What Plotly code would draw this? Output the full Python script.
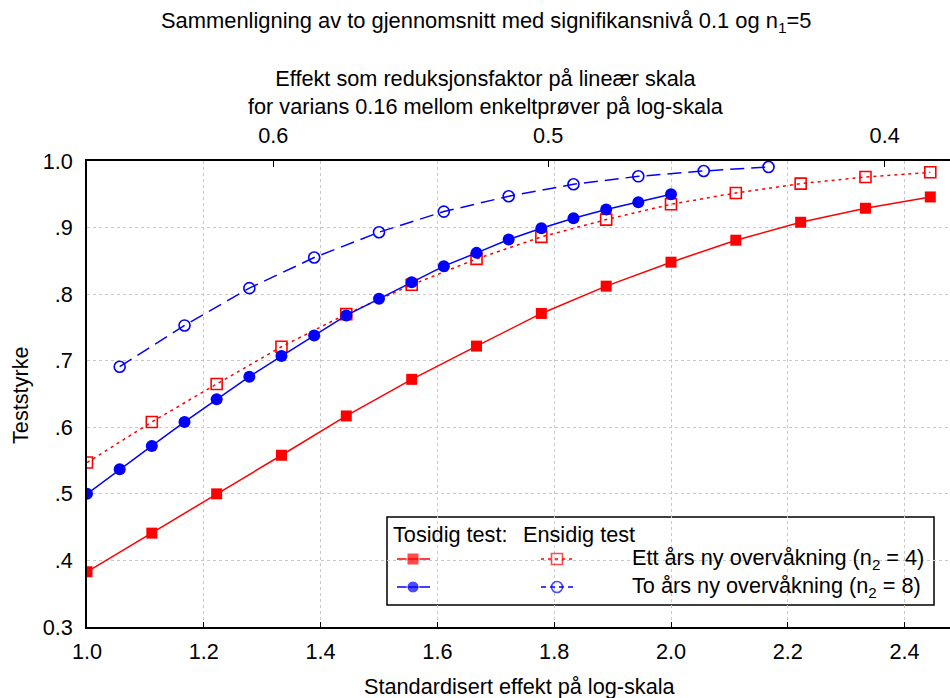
import math
import plotly.graph_objects as go

# ---------------- data ----------------
x_n4 = [1.0, 1.111, 1.222, 1.333, 1.444, 1.556, 1.667, 1.778, 1.889, 2.0, 2.111, 2.222, 2.333, 2.444]
tosidig_n4 = [0.383, 0.441, 0.500, 0.558, 0.617, 0.672, 0.722, 0.771, 0.812, 0.848, 0.881, 0.908, 0.929, 0.946]
ensidig_n4 = [0.547, 0.608, 0.665, 0.721, 0.770, 0.814, 0.853, 0.886, 0.912, 0.935, 0.952, 0.966, 0.976, 0.983]

x_tos_n8 = [1.0, 1.056, 1.111, 1.167, 1.222, 1.278, 1.333, 1.389, 1.444, 1.5, 1.556, 1.611,
            1.667, 1.722, 1.778, 1.833, 1.889, 1.944, 2.0]
tosidig_n8 = [0.500, 0.537, 0.572, 0.608, 0.642, 0.676, 0.707, 0.738, 0.768, 0.793, 0.818, 0.842,
              0.862, 0.882, 0.899, 0.914, 0.927, 0.938, 0.950]

x_ens_n8 = [1.056, 1.167, 1.278, 1.389, 1.5, 1.611, 1.722, 1.833, 1.944, 2.056, 2.167]
ensidig_n8 = [0.691, 0.753, 0.809, 0.855, 0.893, 0.924, 0.947, 0.965, 0.977, 0.985, 0.991]

x_ticks = [1.0, 1.2, 1.4, 1.6, 1.8, 2.0, 2.2, 2.4]
x_ticklabels = ["1.0", "1.2", "1.4", "1.6", "1.8", "2.0", "2.2", "2.4"]
y_ticks = [0.3, 0.4, 0.5, 0.6, 0.7, 0.8, 0.9, 1.0]
y_ticklabels = ["0.3", ".4", ".5", ".6", ".7", ".8", ".9", "1.0"]
top_factors = [0.6, 0.5, 0.4]
top_ticklabels = ["0.6", "0.5", "0.4"]
top_scale_sd = math.sqrt(0.15)  # standardised effect = ln(1/factor)/sd

title = "Sammenligning av to gjennomsnitt med signifikansnivå 0.1 og n<sub>1</sub>=5"
top_title = "Effekt som reduksjonsfaktor på lineær skala<br>for varians 0.16 mellom enkeltprøver på log-skala"
x_title = "Standardisert effekt på log-skala"
y_title = "Teststyrke"
legend_header = ["Tosidig test:", "Ensidig test"]
legend_labels = ["Ett års ny overvåkning (n<sub>2</sub> = 4)", "To års ny overvåkning (n<sub>2</sub> = 8)"]

# ---------------- layout geometry ----------------
W, H = 950, 698
L, R, T, B = 87, 0, 161, 71
PW, PH = W - L - R, H - T - B
XMIN = 1.0
XMAX = XMIN + PW / 584.0

def px(xp):
    return (xp - L) / PW

def py(yp):
    return (H - B - yp) / PH

FONT = "Liberation Sans, Arial, sans-serif"
FS = 21.7
RED = "#ff0000"
BLUE = "#0000ff"

fig = go.Figure()

fig.add_trace(go.Scatter(x=x_n4, y=tosidig_n4, mode="lines+markers",
                         line=dict(color=RED, width=1.5),
                         marker=dict(symbol="square", size=11, color=RED),
                         showlegend=False))
fig.add_trace(go.Scatter(x=x_n4, y=ensidig_n4, mode="lines+markers",
                         line=dict(color=RED, width=1.5, dash="3px,4px"),
                         marker=dict(symbol="square-open", size=11, color=RED, line=dict(width=1.6)),
                         showlegend=False))
fig.add_trace(go.Scatter(x=x_tos_n8, y=tosidig_n8, mode="lines+markers",
                         line=dict(color=BLUE, width=1.5),
                         marker=dict(symbol="circle", size=12, color=BLUE),
                         showlegend=False))
fig.add_trace(go.Scatter(x=x_ens_n8, y=ensidig_n8, mode="lines+markers",
                         line=dict(color=BLUE, width=1.5, dash="14px,7px"),
                         marker=dict(symbol="circle-open", size=11, color=BLUE, line=dict(width=1.6)),
                         showlegend=False))

# top axis carrier (invisible trace)
fig.add_trace(go.Scatter(x=[XMIN, XMAX], y=[0.3, 0.3], xaxis="x2", mode="markers",
                         marker=dict(opacity=0), hoverinfo="skip", showlegend=False))

# ---------------- custom legend (pixel axis x3/y3) ----------------
legend_rows = [
    (559, RED, "square", "square-open", "3px,4px"),
    (587, BLUE, "circle", "circle-open", "5px,4px"),
]
for (yr, col, sym_f, sym_o, dash) in legend_rows:
    fig.add_trace(go.Scatter(x=[397, 413, 430], y=[yr, yr, yr], xaxis="x3", yaxis="y3",
                             mode="lines+markers", line=dict(color=col, width=1.5),
                             marker=dict(symbol=sym_f, size=[0, 12, 0], color=col),
                             hoverinfo="skip", showlegend=False, cliponaxis=False))
    fig.add_trace(go.Scatter(x=[541, 557, 573], y=[yr, yr, yr], xaxis="x3", yaxis="y3",
                             mode="lines+markers", line=dict(color=col, width=1.3, dash=dash),
                             marker=dict(symbol=sym_o, size=[0, 11, 0], color=col, line=dict(width=1.6)),
                             hoverinfo="skip", showlegend=False, cliponaxis=False))

annotations = [
    dict(text=title, x=px(486), y=py(22), xref="paper", yref="paper", showarrow=False,
         xanchor="center", yanchor="middle", font=dict(size=21.9)),
    dict(text=top_title, x=px(486), y=py(93), xref="paper", yref="paper", showarrow=False,
         xanchor="center", yanchor="middle", font=dict(size=FS)),
    dict(text=x_title, x=px(520), y=py(686), xref="paper", yref="paper", showarrow=False,
         xanchor="center", yanchor="middle", font=dict(size=FS)),
    dict(text=y_title, x=px(20), y=py(395), xref="paper", yref="paper", showarrow=False,
         xanchor="center", yanchor="middle", textangle=-90, font=dict(size=FS)),
    dict(text=legend_header[0], x=px(391), y=py(534), xref="paper", yref="paper", showarrow=False,
         xanchor="left", yanchor="middle", font=dict(size=FS)),
    dict(text=legend_header[1], x=px(521), y=py(534), xref="paper", yref="paper", showarrow=False,
         xanchor="left", yanchor="middle", font=dict(size=FS)),
    dict(text=legend_labels[0], x=px(630), y=py(559), xref="paper", yref="paper", showarrow=False,
         xanchor="left", yanchor="middle", font=dict(size=FS)),
    dict(text=legend_labels[1], x=px(630), y=py(587), xref="paper", yref="paper", showarrow=False,
         xanchor="left", yanchor="middle", font=dict(size=FS)),
]

shapes = [
    dict(type="rect", xref="paper", yref="paper", x0=px(387), x1=px(934), y0=py(605), y1=py(517),
         line=dict(color="black", width=1.5), fillcolor="white", layer="between"),
]

axis_common = dict(showline=True, linecolor="black", linewidth=1.5, zeroline=False,
                   tickfont=dict(size=FS, color="black"), tickcolor="black")

fig.update_layout(
    width=W, height=H,
    margin=dict(l=L, r=R, t=T, b=B, pad=0),
    paper_bgcolor="white", plot_bgcolor="white",
    font=dict(family=FONT, size=FS, color="black"),
    xaxis=dict(range=[XMIN, XMAX], tickvals=x_ticks, ticktext=x_ticklabels,
               showgrid=True, gridcolor="#c8c8c8", griddash="dot", gridwidth=1,
               ticks="inside", ticklen=5, ticklabelstandoff=4, **axis_common),
    xaxis2=dict(overlaying="x", side="top", range=[XMIN, XMAX],
                tickvals=[math.log(1 / f) / top_scale_sd for f in top_factors],
                ticktext=top_ticklabels, showgrid=False,
                ticks="inside", ticklen=6, ticklabelstandoff=8, **axis_common),
    yaxis=dict(range=[0.3, 1.0], tickvals=y_ticks, ticktext=y_ticklabels,
               showgrid=True, gridcolor="#c8c8c8", griddash="dot", gridwidth=1,
               ticks="", ticklabelstandoff=8, **axis_common),
    xaxis3=dict(overlaying="x", range=[L, W - R], visible=False, anchor="y3"),
    yaxis3=dict(overlaying="y", range=[H - B, T], visible=False, anchor="x3"),
    annotations=annotations,
    shapes=shapes,
)

fig.write_html("out.html")
